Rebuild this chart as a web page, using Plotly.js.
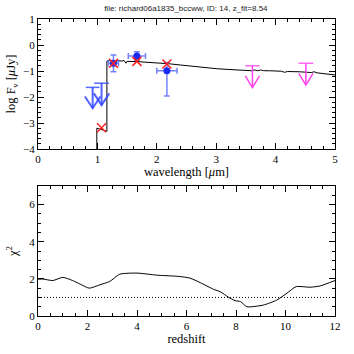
<!DOCTYPE html>
<html><head><meta charset="utf-8">
<script src="https://cdn.plot.ly/plotly-3.0.1.min.js"></script>
<style>html,body{margin:0;padding:0;background:#fff;}#plot{width:354px;height:354px;}</style>
</head><body><div id="plot"></div>
<script>
// SED model
const sedWave = [0.99, 0.99, 1.05, 1.10, 1.16, 1.16, 1.20, 1.25, 1.30, 1.35, 1.40, 1.45, 1.48, 1.50, 1.60, 1.70, 1.80, 1.90, 2.00, 2.10, 2.20, 2.40, 2.60, 2.80, 3.00, 3.20, 3.40, 3.50, 3.60, 3.65, 3.70, 3.75, 3.80, 3.90, 4.00, 4.10, 4.15, 4.20, 4.40, 4.60, 4.65, 4.70, 4.80, 5.00];
const sedFlux = [-4.00, -3.20, -3.24, -3.27, -3.32, -0.62, -0.60, -0.62, -0.63, -0.60, -0.62, -0.60, -0.70, -0.63, -0.63, -0.64, -0.66, -0.67, -0.70, -0.70, -0.72, -0.77, -0.82, -0.87, -0.91, -0.94, -0.96, -0.97, -0.99, -0.96, -0.99, -0.96, -0.99, -0.99, -1.00, -1.01, -1.05, -1.02, -1.03, -1.06, -1.03, -1.07, -1.10, -1.15];
// Observed detections
const obsWave = [1.27, 1.665, 2.17];
const obsFlux = [-0.70, -0.42, -0.99];
const obsXerr = [0.085, 0.145, 0.17];
const obsYerrPlus = [0.32, 0.16, 0.32];
const obsYerrMinus = [0.33, 0.16, 0.97];
// Model fluxes
const modWave = [1.07, 1.27, 1.665, 2.17];
const modFlux = [-3.18, -0.70, -0.63, -0.73];
// Upper limits (blue)
const limBWave = [0.92, 1.07];
const limBTop = [-1.63, -1.47];
const limBTip = [-2.43, -2.31];
const limBXerr = [0.115, 0.125];
// Upper limits (magenta)
const limMWave = [3.61, 4.51];
const limMTop = [-0.80, -0.70];
const limMTip = [-1.64, -1.54];
const limMXerr = [0.12, 0.125];
// chi2 vs redshift
const zGrid = [0, 0.2, 0.6, 1.0, 1.4, 1.76, 2.07, 2.5, 2.9, 3.3, 4.0, 4.8, 5.7, 6.14, 6.55, 7.09, 7.36, 7.7, 7.96, 8.19, 8.44, 9.11, 9.65, 10.06, 10.43, 11.0, 11.4, 12.0];
const chi2 = [1.98, 1.99, 1.91, 2.08, 1.91, 1.68, 1.50, 1.68, 1.86, 2.25, 2.31, 2.20, 2.13, 2.04, 1.80, 1.44, 1.31, 1.01, 0.83, 0.77, 0.50, 0.59, 0.86, 1.23, 1.58, 1.55, 1.62, 1.91];
const chiRef = 1;

function arrowTrace(w, top, tip, color, width, hw, hh) {
  const x = [], y = [];
  for (let i = 0; i < w.length; i++) {
    x.push(w[i], w[i], null, w[i] - hw, w[i], w[i] + hw, null);
    y.push(top[i], tip[i], null, tip[i] + hh, tip[i], tip[i] + hh, null);
  }
  return {x, y, mode: 'lines', line: {color, width}, xaxis: 'x', yaxis: 'y', hoverinfo: 'skip'};
}
function barTrace(w, top, xerr, color, width) {
  return {x: w, y: top, mode: 'markers', marker: {size: 0.1, color}, error_x: {type: 'data', array: xerr, color, thickness: width, width: 0}, xaxis: 'x', yaxis: 'y'};
}

const serif = 'Liberation Serif, Times New Roman, serif';
const traces = [
  {x: sedWave, y: sedFlux, mode: 'lines', line: {color: 'black', width: 1}, xaxis: 'x', yaxis: 'y'},
  barTrace(limBWave, limBTop, limBXerr, 'rgba(60,80,255,0.85)', 1.5),
  arrowTrace(limBWave, limBTop, limBTip, 'rgba(50,70,255,0.85)', 2, 0.13, 0.45),
  barTrace(limMWave, limMTop, limMXerr, '#ff44ee', 1.2),
  arrowTrace(limMWave, limMTop, limMTip, '#ff44ee', 1.5, 0.12, 0.45),
  {x: obsWave, y: obsFlux, mode: 'markers', marker: {color: '#1a2af0', size: 7},
   error_x: {type: 'data', array: obsXerr, color: 'rgba(80,100,255,0.8)', thickness: 1.5, width: 3},
   error_y: {type: 'data', symmetric: false, array: obsYerrPlus, arrayminus: obsYerrMinus, color: 'rgba(80,100,255,0.8)', thickness: 1.5, width: 3},
   xaxis: 'x', yaxis: 'y'},
  {x: modWave, y: modFlux, mode: 'markers', marker: {symbol: 'x-thin-open', size: 9, line: {color: '#ff2020', width: 1.5}, color: '#ff2020'}, xaxis: 'x', yaxis: 'y'},
  {x: zGrid, y: chi2, mode: 'lines', line: {color: 'black', width: 1, shape: 'spline', smoothing: 0.6}, xaxis: 'x2', yaxis: 'y2'},
  {x: [0, 12], y: [chiRef, chiRef], mode: 'lines', line: {color: 'black', width: 1, dash: '1px,2px'}, xaxis: 'x2', yaxis: 'y2'}
];

function ax(extra) {
  return Object.assign({
    showline: true, linecolor: 'black', linewidth: 1, mirror: 'allticks',
    ticks: 'inside', ticklen: 6, tickcolor: 'black', tickwidth: 1,
    showgrid: false, zeroline: false,
    tickfont: {family: serif, size: 11, color: 'black'}
  }, extra);
}
const tfont = {family: serif, size: 12.5, color: 'black'};

const layout = {
  width: 354, height: 354,
  margin: {l: 38, r: 19, t: 19, b: 38},
  showlegend: false,
  paper_bgcolor: 'white', plot_bgcolor: 'white',
  title: {text: 'file: richard06a1835_bccww, ID: 14, z_fit=8.54', font: {family: 'Liberation Sans, Arial, sans-serif', size: 8, color: '#222'}, x: 0.525, xanchor: 'center', y: 0.985, yanchor: 'top'},
  xaxis: ax({domain: [0, 1], anchor: 'y', range: [0, 5], dtick: 1, tick0: 0,
    minor: {dtick: 0.2, ticks: 'inside', ticklen: 3, tickcolor: 'black', showgrid: false},
    title: {text: 'wavelength [<i>μ</i>m]', font: tfont, standoff: 1}}),
  yaxis: ax({domain: [0.5623, 1], anchor: 'x', range: [-4, 1], dtick: 1, tick0: 0,
    minor: {dtick: 0.2, ticks: 'inside', ticklen: 3, tickcolor: 'black', showgrid: false},
    title: {text: 'log F<sub>ν</sub> [<i>μ</i>Jy]', font: tfont, standoff: 4}}),
  xaxis2: ax({domain: [0, 1], anchor: 'y2', range: [0, 12], dtick: 2, tick0: 0,
    minor: {dtick: 0.5, ticks: 'inside', ticklen: 3, tickcolor: 'black', showgrid: false},
    title: {text: 'redshift', font: tfont, standoff: 1}}),
  yaxis2: ax({domain: [0, 0.4377], anchor: 'x2', range: [0, 7], dtick: 2, tick0: 0,
    minor: {dtick: 0.5, ticks: 'inside', ticklen: 3, tickcolor: 'black', showgrid: false},
    title: {text: 'χ<sup>2</sup>', font: tfont, standoff: 8}})
};

Plotly.newPlot('plot', traces, layout, {displayModeBar: false, staticPlot: true});
</script></body></html>
